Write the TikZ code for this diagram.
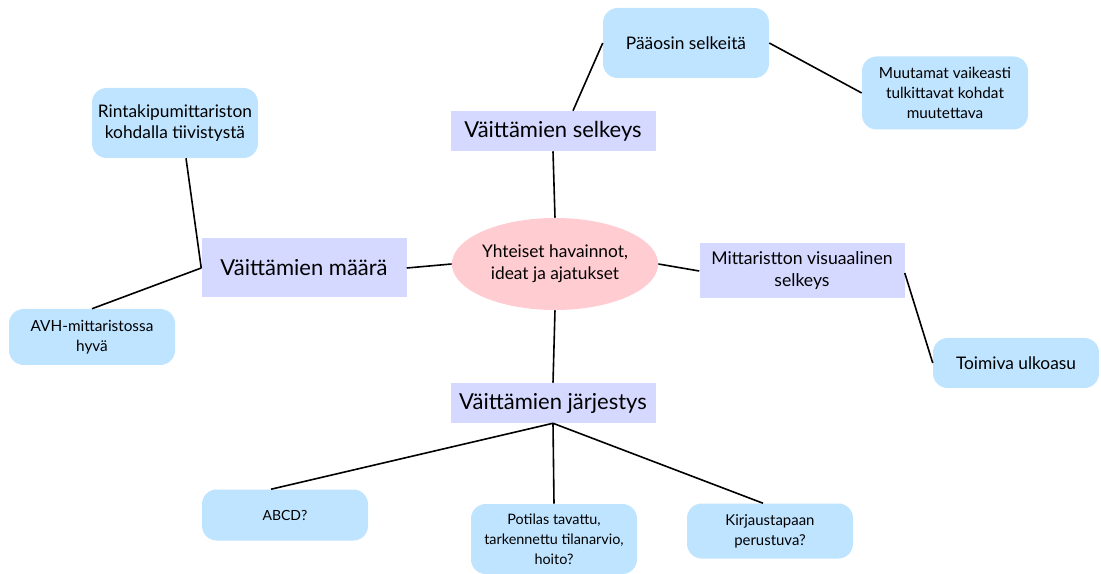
\documentclass[tikz,border=0pt]{standalone}
\usepackage{fontspec}
\setmainfont{Lato}
\usetikzlibrary{shapes.geometric,calc}
\definecolor{pinkc}{HTML}{FFCCD1}
\definecolor{lavc}{HTML}{D6D9FF}
\definecolor{bluec}{HTML}{BFE4FF}
\tikzset{
  mainbox/.style={rectangle,fill=lavc,inner sep=0pt,minimum width=153.75pt,align=center,font=\fontsize{16.5}{19}\selectfont},
  leafbox/.style={rectangle,rounded corners=11pt,fill=bluec,inner sep=0pt,minimum width=124.5pt,align=center,font=\fontsize{11.2}{15}\selectfont},
  link/.style={line width=1.2pt,black}
}
\begin{document}
\begin{tikzpicture}[x=0.75pt,y=-0.75pt]
\useasboundingbox (0,0) rectangle (1101,574);
% center
\node[ellipse,fill=pinkc,minimum width=150.75pt,minimum height=69pt,inner sep=0pt,align=center,font=\fontsize{13}{16.5}\selectfont] (center) at (555,264) {Yhteiset havainnot,\\ideat ja ajatukset};
% main boxes
\node[mainbox,minimum height=30pt] (selkeys) at (553,131) {Väittämien selkeys};
\node[mainbox,minimum height=44.25pt] (maara) at (304,268) {Väittämien määrä};
\node[mainbox,minimum height=41.25pt,font=\fontsize{13.2}{16.5}\selectfont] (mitt) at (802,271) {Mittaristton visuaalinen\\selkeys};
\node[mainbox,minimum height=30pt] (jarj) at (553,403) {Väittämien järjestys};
% leaves
\node[leafbox,minimum height=52.5pt,font=\fontsize{13}{16}\selectfont] (paa) at (686,43) {Pääosin selkeitä};
\node[leafbox,minimum height=54.75pt,font=\fontsize{11.5}{15}\selectfont] (muut) at (945,93) {Muutamat vaikeasti\\tulkittavat kohdat\\muutettava};
\node[leafbox,minimum height=52.5pt,font=\fontsize{13}{16}\selectfont] (rinta) at (175,123) {Rintakipumittariston\\kohdalla tiivistystä};
\node[leafbox,minimum height=42pt,font=\fontsize{11.5}{15}\selectfont] (avh) at (92,337) {AVH-mittaristossa\\hyvä};
\node[leafbox,minimum height=37.5pt,font=\fontsize{13}{16}\selectfont] (toim) at (1016,363) {Toimiva ulkoasu};
\node[leafbox,minimum height=38.25pt,font=\fontsize{10.5}{14}\selectfont] (abcd) at (285,515) {ABCD?};
\node[leafbox,minimum height=52.5pt,font=\fontsize{10.8}{15}\selectfont] (pot) at (554,539) {Potilas tavattu,\\tarkennettu tilanarvio,\\hoito?};
\node[leafbox,minimum height=41.25pt] (kirj) at (770,531) {Kirjaustapaan\\perustuva?};
% connectors
\draw[link] (center.north) -- (selkeys.south);
\draw[link] ($(selkeys.north)+(20,0)$) -- (paa.west);
\draw[link] (paa.east) -- (muut.west);
\draw[link] (center.west) -- (maara.east);
\draw[link] (maara.west) -- ($(rinta.south)+(11,0)$);
\draw[link] (maara.west) -- (avh.north);
\draw[link] (center.east) -- (mitt.west);
\draw[link] ($(mitt.east)+(0,2)$) -- (toim.west);
\draw[link] (center.south) -- (jarj.north);
\draw[link] (jarj.south) -- ($(abcd.north)+(-14,0)$);
\draw[link] (jarj.south) -- (pot.north);
\draw[link] (jarj.south) -- ($(kirj.north)+(-7,0)$);
\end{tikzpicture}
\end{document}
